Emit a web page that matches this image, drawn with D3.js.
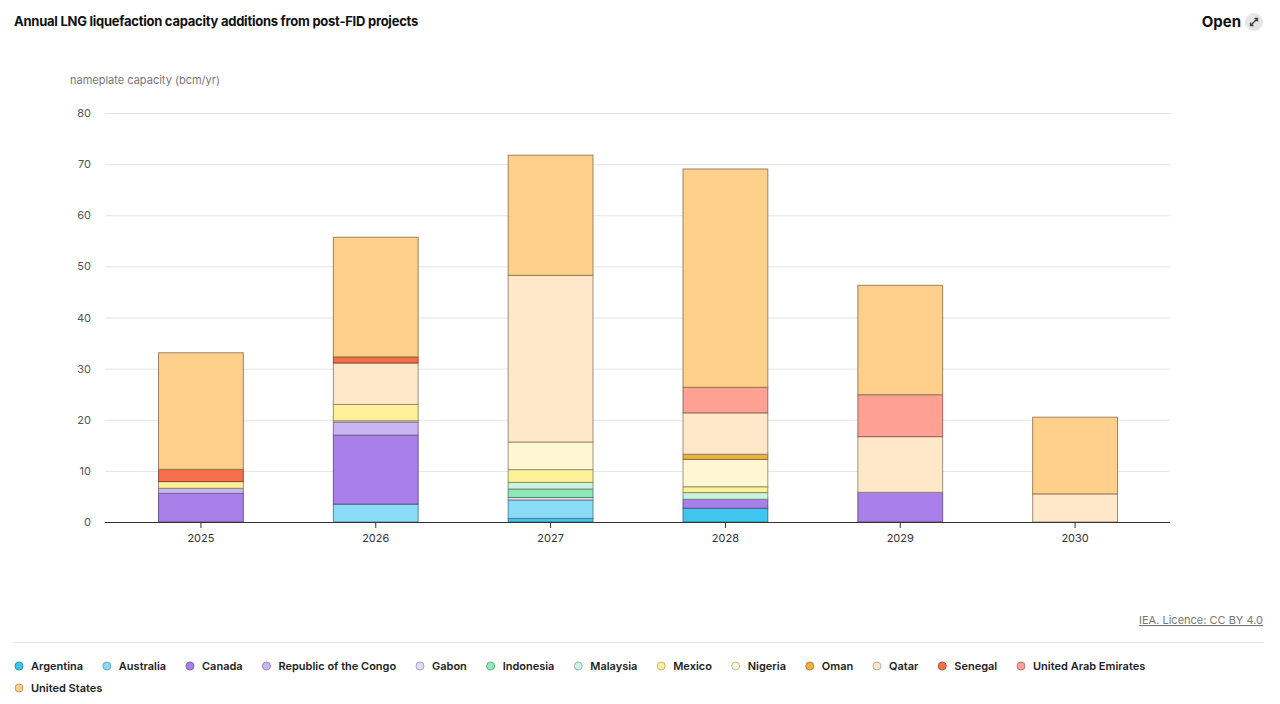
<!DOCTYPE html>
<html>
<head>
<meta charset="utf-8">
<script src="https://cdn.jsdelivr.net/npm/d3@7.9.0/dist/d3.min.js"></script>
<style>
  body { margin: 0; background: #fff; font-family: Inter, "Noto Sans", sans-serif; }
  svg text { font-family: Inter, "Noto Sans", sans-serif; }
</style>
</head>
<body>
<svg id="chart" width="1280" height="704"></svg>
<script>
const years = ['2025', '2026', '2027', '2028', '2029', '2030'];

const countries = ['Argentina', 'Australia', 'Canada', 'Republic of the Congo', 'Gabon', 'Indonesia',
    'Malaysia', 'Mexico', 'Nigeria', 'Oman', 'Qatar', 'Senegal', 'United Arab Emirates', 'United States'];

const colors = ['#3fc6ef', '#8adbf6', '#a97fe9', '#c9b5f3', '#e3daf8', '#8fe8b6',
    '#c9f4df', '#fff19a', '#fff7d1', '#f1b041', '#ffe8c9', '#f5704a', '#ffa192', '#ffd08c'];

// bcm/yr per year, 2025..2030
const argentina = [0, 0, 0.7, 2.7, 0, 0];
const australia = [0, 3.5, 3.6, 0, 0, 0];
const canada = [5.6, 13.5, 0, 1.75, 5.8, 0];
const congo = [1.0, 2.5, 0, 0, 0, 0];
const gabon = [0, 0.3, 0.5, 0, 0, 0];
const indonesia = [0, 0, 1.65, 0, 0, 0];
const malaysia = [0, 0, 1.3, 1.3, 0, 0];
const mexico = [1.3, 3.2, 2.5, 1.15, 0, 0];
const nigeria = [0, 0, 5.4, 5.35, 0, 0];
const oman = [0, 0, 0, 1.0, 0, 0];
const qatar = [0, 8.1, 32.6, 8.1, 10.9, 5.5];
const senegal = [2.4, 1.2, 0, 0, 0, 0];
const uae = [0, 0, 0, 5.0, 8.2, 0];
const unitedStates = [22.8, 23.4, 23.5, 42.7, 21.4, 15.0];

const yTicks = [0, 10, 20, 30, 40, 50, 60, 70, 80];

const series = [argentina, australia, canada, congo, gabon, indonesia, malaysia,
    mexico, nigeria, oman, qatar, senegal, uae, unitedStates];

let table = years.map((year, i) => {
    let row = { year: year };
    countries.forEach((c, j) => { row[c] = series[j][i]; });
    return row;
});

let svg = d3.select('#chart');

let x = d3.scaleBand().domain(years).range([113.5, 1162.5]).paddingInner(0.515).paddingOuter(0.2575);
let y = d3.scaleLinear().domain([0, 80]).range([522, 113]);
let color = d3.scaleOrdinal().domain(countries).range(colors);

// title + open button
svg.append('text')
    .attr('x', 14).attr('y', 26)
    .attr('font-size', 13).attr('font-weight', 700).attr('fill', '#111')
    .attr('letter-spacing', '-0.25')
    .text('Annual LNG liquefaction capacity additions from post-FID projects');

svg.append('text')
    .attr('x', 1241).attr('y', 27)
    .attr('text-anchor', 'end')
    .attr('font-size', 15).attr('font-weight', 700).attr('fill', '#111')
    .text('Open');

let btn = svg.append('g').attr('transform', 'translate(1254,22)');
btn.append('circle').attr('r', 9).attr('fill', '#e6e6e6');
btn.append('path')
    .attr('d', 'M-3.5,3.5 L3.5,-3.5 M0.5,-3.5 L3.5,-3.5 L3.5,-0.5 M-3.5,0.5 L-3.5,3.5 L-0.5,3.5')
    .attr('stroke', '#444').attr('stroke-width', 1.3).attr('fill', 'none');

// y label
svg.append('text')
    .attr('x', 70).attr('y', 84)
    .attr('font-size', 11).attr('fill', '#777')
    .text('nameplate capacity (bcm/yr)');

// grid + y ticks
let yAxis = svg.append('g')
    .attr('transform', 'translate(105,0)')
    .call(d3.axisLeft(y).tickValues(yTicks).tickSize(-1065).tickPadding(14));
yAxis.select('.domain').remove();
yAxis.selectAll('.tick line').attr('stroke', '#e4e4e4');
yAxis.selectAll('.tick text').attr('font-size', 11).attr('fill', '#555');

// stacked bars
let stack = d3.stack().keys(countries);
let layers = stack(table);

svg.append('g')
    .selectAll('g')
    .data(layers)
    .join('g')
    .attr('fill', (d) => color(d.key))
    .attr('stroke', (d) => d3.color(color(d.key)).darker(1.7))
    .attr('stroke-opacity', 0.85)
    .selectAll('rect')
    .data((d) => d.filter((p) => p[1] - p[0] > 0))
    .join('rect')
    .attr('x', (d) => x(d.data.year))
    .attr('width', x.bandwidth())
    .attr('y', (d) => y(d[1]))
    .attr('height', (d) => y(d[0]) - y(d[1]))
    .attr('stroke-width', 1);

// x axis
let xAxis = svg.append('g')
    .attr('transform', 'translate(0,522)')
    .call(d3.axisBottom(x).tickSize(6).tickPadding(6));
xAxis.select('.domain').attr('d', 'M105,0.5H1170').attr('stroke', '#333');
xAxis.selectAll('.tick line').attr('stroke', '#333');
xAxis.selectAll('.tick text').attr('font-size', 11).attr('fill', '#333');

// source
svg.append('text')
    .attr('x', 1263).attr('y', 624)
    .attr('text-anchor', 'end')
    .attr('font-size', 11).attr('fill', '#777')
    .attr('text-decoration', 'underline')
    .text('IEA. Licence: CC BY 4.0');

svg.append('line')
    .attr('x1', 14).attr('x2', 1264)
    .attr('y1', 642.5).attr('y2', 642.5)
    .attr('stroke', '#e2e2e2');

// legend
let legend = svg.append('g');
let lx = 19;
let ly = 666;
countries.forEach((c) => {
    let item = legend.append('g').attr('transform', `translate(${lx},${ly})`);
    item.append('circle')
        .attr('r', 4)
        .attr('fill', color(c))
        .attr('stroke', d3.color(color(c)).darker(0.8))
        .attr('stroke-width', 1);
    let t = item.append('text')
        .attr('x', 12).attr('y', 4)
        .attr('font-size', 11).attr('font-weight', 600).attr('fill', '#222')
        .text(c);
    let w = t.node().getComputedTextLength();
    lx += 12 + w + 23.8;
    if (lx > 1150) {
        lx = 19;
        ly += 22;
    }
});
</script>
</body>
</html>
